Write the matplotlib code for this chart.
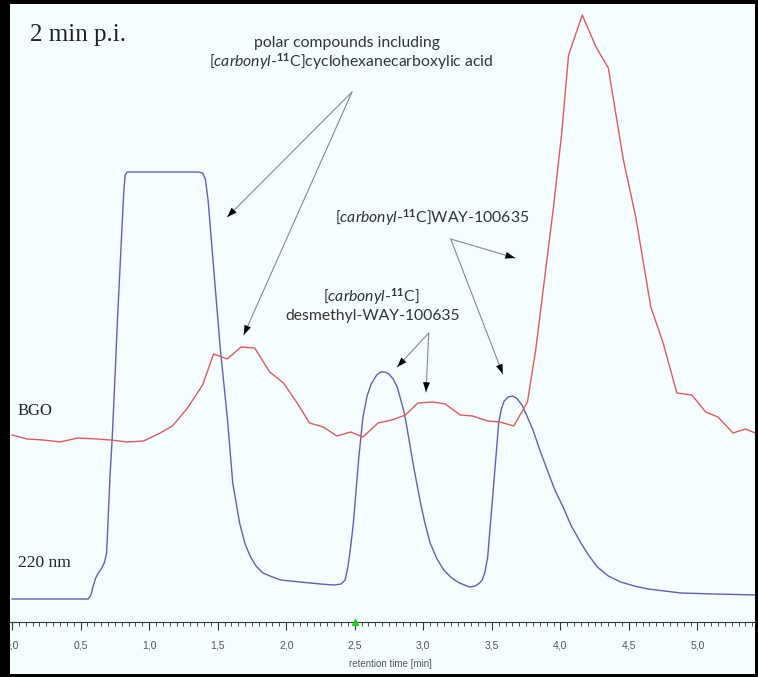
import matplotlib
matplotlib.use("Agg")
import matplotlib.pyplot as plt
from matplotlib.patches import Rectangle
from matplotlib.ticker import MultipleLocator, FuncFormatter

plt.rcParams["mathtext.fontset"] = "custom"
plt.rcParams["mathtext.rm"] = "Lato"
plt.rcParams["mathtext.it"] = "Lato:italic"
plt.rcParams["mathtext.bf"] = "Lato:bold"

# UV trace (220 nm), retention time in min and signal in arbitrary units
uv_time = [0.00, 0.555, 0.575, 0.59, 0.61, 0.63, 0.655, 0.675, 0.69, 0.70, 0.715,
           0.73, 0.75, 0.77, 0.80, 0.815, 0.825, 0.84, 1.36, 1.39, 1.41, 1.43, 1.47,
           1.52, 1.57, 1.61, 1.66, 1.70, 1.74, 1.78, 1.83, 1.90, 1.96, 2.10, 2.25,
           2.35, 2.40, 2.43, 2.45, 2.47, 2.49, 2.53, 2.56, 2.59, 2.62, 2.66, 2.69,
           2.72, 2.75, 2.78, 2.81, 2.83, 2.86, 2.88, 2.93, 2.98, 3.01, 3.05, 3.10,
           3.15, 3.20, 3.25, 3.30, 3.34, 3.38, 3.41, 3.43, 3.45, 3.47, 3.50, 3.53,
           3.55, 3.57, 3.59, 3.62, 3.65, 3.68, 3.72, 3.76, 3.80, 3.85, 3.91, 3.96,
           4.02, 4.08, 4.15, 4.21, 4.27, 4.35, 4.44, 4.54, 4.64, 4.76, 4.88, 5.12, 5.44]
uv_signal = [23, 23, 27, 35, 44, 49, 54, 60, 69, 100, 147,
             182, 242, 305, 389, 430, 447, 450, 450, 449, 443, 422, 355,
             272, 205, 139, 99, 78, 65, 56, 49, 45, 42, 40, 38,
             37, 38, 42, 55, 75, 99, 165, 205, 226, 238, 247, 250,
             250, 248, 243, 235, 225, 210, 195, 155, 119, 100, 79, 63,
             52, 45, 40, 37, 35, 36, 39, 42, 50, 65, 115, 165,
             199, 213, 221, 225, 226, 224, 217, 205, 192, 172, 150, 132,
             115, 96, 79, 66, 55, 46, 40, 36, 33, 31, 29, 28, 27]

# radioactivity trace (BGO detector)
bgo_time = [0.00, 0.11, 0.23, 0.35, 0.48, 0.62, 0.72, 0.84, 0.96, 1.08, 1.17, 1.28,
            1.39, 1.47, 1.57, 1.67, 1.77, 1.88, 1.98, 2.08, 2.17, 2.27, 2.37, 2.47,
            2.56, 2.67, 2.77, 2.87, 2.96, 3.07, 3.16, 3.27, 3.36, 3.47, 3.56, 3.66,
            3.76, 3.82, 3.89, 3.95, 4.01, 4.06, 4.16, 4.26, 4.35, 4.40, 4.46, 4.55,
            4.66, 4.75, 4.85, 4.96, 5.06, 5.15, 5.26, 5.35, 5.44]
bgo_signal = [187, 183, 182, 180, 184, 183, 182, 180, 181, 189, 196, 214,
              237, 268, 263, 275, 274, 250, 239, 219, 199, 195, 186, 190,
              185, 199, 202, 207, 219, 220, 218, 207, 206, 201, 200, 196,
              220, 272, 349, 415, 489, 567, 607, 575, 554, 512, 462, 405,
              315, 279, 229, 227, 210, 205, 189, 193, 188]

bg = "#f5fefe"
fig = plt.figure(figsize=(7.58, 6.77), dpi=100, facecolor=bg)
ax = fig.add_axes([10 / 758, 55 / 677, 745 / 758, 618 / 677], facecolor=bg)

ax.plot(uv_time, uv_signal, color="#5f5fb6", lw=1.0)
ax.plot(bgo_time, bgo_signal, color="#e45858", lw=1.0)

ax.set_xlim(-0.015, 5.42)
ax.set_ylim(0, 618)

for side in ["left", "right", "top"]:
    ax.spines[side].set_visible(False)
ax.spines["bottom"].set_color("#333333")
ax.spines["bottom"].set_linewidth(0.8)
ax.set_yticks([])

ax.xaxis.set_major_locator(MultipleLocator(0.5))
ax.xaxis.set_minor_locator(MultipleLocator(0.05))
ax.xaxis.set_major_formatter(FuncFormatter(lambda v, p: f"{v:.1f}".replace(".", ",")))
ax.tick_params(axis="x", which="major", length=6, width=0.8, color="#333333",
               labelsize=7.5, labelcolor="#555555", pad=7)
ax.tick_params(axis="x", which="minor", length=3, width=0.6, color="#333333")
for lab in ax.get_xticklabels():
    lab.set_fontfamily("Liberation Sans")
ax.set_xlabel("retention time [min]", fontsize=7, color="#555555",
              fontfamily="Liberation Sans")
ax.xaxis.set_label_coords(0.510, -0.060)

# injection marker
ax.plot([2.5], [0], marker="^", color="#22cc22", ms=5, clip_on=False, zorder=5)

serif = "Liberation Serif"
ax.text(0.13, 581, "2 min p.i.", fontsize=18, fontfamily=serif, color="#222222", va="baseline")
ax.text(0.04, 207, "BGO", fontsize=12, fontfamily=serif, color="#222222", va="baseline")
ax.text(0.04, 55, "220 nm", fontsize=12.5, fontfamily=serif, color="#222222", va="baseline")

sans = "Lato"
tc = "#333333"
fs = 11.3
ax.text(2.445, 579, "polar compounds including", fontsize=fs, fontfamily=sans,
        color=tc, ha="center", va="center")
ax.text(2.47, 560, r"[$\mathit{carbonyl}$-$^{\mathbf{11}}$C]cyclohexanecarboxylic acid",
        fontsize=fs, fontfamily=sans, color=tc, ha="center", va="center")
ax.text(3.066, 404, r"[$\mathit{carbonyl}$-$^{\mathbf{11}}$C]WAY-100635", fontsize=fs,
        fontfamily=sans, color=tc, ha="center", va="center")
ax.text(2.62, 325, r"[$\mathit{carbonyl}$-$^{\mathbf{11}}$C]", fontsize=fs,
        fontfamily=sans, color=tc, ha="center", va="center")
ax.text(2.63, 306, "desmethyl-WAY-100635", fontsize=fs, fontfamily=sans,
        color=tc, ha="center", va="center")


def pointer(start, tip):
    # thin grey shaft with a small black head
    ax.annotate("", xy=tip, xytext=start,
                arrowprops=dict(arrowstyle="-", color="#888888", lw=0.8,
                                shrinkA=0, shrinkB=0))
    ax.annotate("", xy=tip, xytext=start,
                arrowprops=dict(arrowstyle="-|>,head_length=0.7,head_width=0.25",
                                color="black", lw=0, shrinkA=0, shrinkB=0))


pointer((2.48, 530), (1.57, 405))
pointer((2.48, 530), (1.69, 287))
pointer((3.20, 383), (3.67, 364))
pointer((3.20, 383), (3.58, 248))
pointer((3.04, 289), (2.81, 255))
pointer((3.04, 289), (3.02, 230))

# dark frame around the picture
frame = [(0, 0, 10, 677), (0, 674, 758, 3), (755, 0, 3, 677), (0, 0, 758, 4)]
for x0, y0, w, h in frame:
    fig.add_artist(Rectangle((x0 / 758, 1 - (y0 + h) / 677), w / 758, h / 677,
                             transform=fig.transFigure, color="black", lw=0))

fig.savefig("out.png", dpi=100, facecolor=bg)
